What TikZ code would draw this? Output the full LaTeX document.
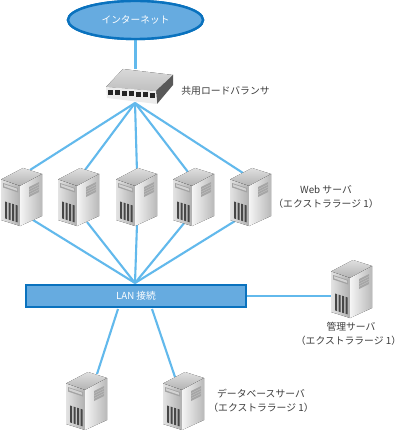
\documentclass[tikz,border=0pt]{standalone}
\usepackage{fontspec}
\setmainfont{Noto Sans CJK JP}
\usetikzlibrary{shapes.geometric}
\definecolor{linkblue}{HTML}{62B9EC}
\definecolor{edgeblue}{HTML}{0A72BE}
\definecolor{fillblue}{HTML}{66ABE0}
\definecolor{labelgrey}{HTML}{3C3C3C}
\newcommand{\sizeline}{\kern-4.8pt（エクストララージ 1）\kern-4.8pt}
\tikzset{
  link/.style={draw=linkblue,line width=2.1pt},
  label/.style={text=labelgrey,font=\fontsize{9.8}{13.5}\selectfont,inner sep=0pt,align=center},
  whitelabel/.style={text=white,font=\fontsize{9.7}{11}\selectfont,inner sep=0pt},
  cloud/.style={ellipse,draw=edgeblue,fill=fillblue,line width=2.4pt,minimum width=135pt,minimum height=38pt,inner sep=0pt},
  bar/.style={rectangle,draw=edgeblue,fill=fillblue,line width=2.2pt,minimum width=220pt,minimum height=22pt,inner sep=0pt},
  hostbox/.style={rectangle,minimum width=41pt,minimum height=58pt,inner sep=0pt},
  switchbox/.style={rectangle,minimum width=67pt,minimum height=35pt,inner sep=0pt},
  pics/serverpic/.style={code={
    \fill[top color=gray!25,bottom color=gray!60] (0,11.5)--(22,0)--(41,6)--(19,18)--cycle;
    \fill[left color=gray!22,right color=gray!62] (0,11.5)--(19,18)--(19,58)--(0,52)--cycle;
    \fill[left color=gray!8,right color=gray!55] (19,18)--(41,6)--(41,48)--(19,58)--cycle;
    \fill[gray!72] (2,15)--(17,20)--(17,24.5)--(2,19.5)--cycle;
    \fill[gray!35] (3,16.2)--(16,20.6)--(16,22.8)--(3,18.4)--cycle;
    \fill[gray!70] (28,19)--(38,14)--(38,24)--(28,29)--cycle;
    \foreach \i in {0,1,2}{\draw[gray!45,line width=.4pt] (28,{21.5+\i*2.5})--(38,{16.5+\i*2.5});}
    \foreach \i in {0,1,2,3}{\fill[black!72] ({4+\i*3.5},{33.5+\i*1.1})--({6+\i*3.5},{34.1+\i*1.1})--({6+\i*3.5},{51+\i*1.1})--({4+\i*3.5},{50.4+\i*1.1})--cycle;}
  }},
}
\begin{document}
\begin{tikzpicture}[x=1pt,y=-1pt]
\useasboundingbox (0,0) rectangle (400,430);
\fill[white] (0,0) rectangle (400,430);
\node[cloud] (net) at (135.5,20) {};
\node[bar] (lan) at (136,296) {};
\coordinate (lbdown) at (135,103);
\coordinate (lanup) at (135,283);
\node[switchbox] (lb) at (139.5,87) {};
\node[hostbox] (mg) at (351.5,289) {};
\coordinate (t1) at (30,170);\coordinate (t2) at (85,170);\coordinate (t3) at (137,172);\coordinate (t4) at (188,172);\coordinate (t5) at (243,173);
\coordinate (b1) at (33,220);\coordinate (b2) at (87,222);\coordinate (b3) at (137,224);\coordinate (b4) at (185,222);\coordinate (b5) at (235,221);
\coordinate (dt1) at (97,374);\coordinate (dt2) at (175,377);
\coordinate (dl1) at (118,309);\coordinate (dl2) at (152,309);
\draw[link] (net.south) -- (net.south |- lb.north);
\foreach \n in {1,...,5}{\draw[link] (lbdown) -- (t\n); \draw[link] (lanup) -- (b\n);}
\draw[link] (lan.east) -- (lan.east -| mg.west);
\draw[link] (dl1) -- (dt1);
\draw[link] (dl2) -- (dt2);
\node[cloud] at (net) {};
\node[whitelabel] at (net) {インターネット};
\node[bar] at (lan) {};
\node[whitelabel] at (lan) {LAN 接続};
\fill[top color=gray!30,bottom color=gray!50] (106,87)--(123,69)--(173,75)--(156,91)--cycle;
\fill[gray!70!black] (156,91)--(173,75)--(173,85)--(157,104)--cycle;
\fill[gray!15] (106,87)--(156,91)--(157,104)--(107,98)--cycle;
\foreach \i in {0,...,6}{\fill[black!85] ({108+\i*7},{90+\i*.5}) rectangle ++(5.2,4.6);}
\foreach \x/\y in {1/168,58/168,116/168,173/168,230/168,331/260,66/372,163/372}{
  \pic at (\x,\y) {serverpic};
}
\node[label] at (225.5,91) {共用ロードバランサ};
\node[label] at (326,197) {Web サーバ\\\sizeline};
\node[label] at (348.5,334) {\kern5pt管理サーバ\\\sizeline};
\node[label] at (261,401) {データベースサーバ\\\sizeline};
\end{tikzpicture}
\end{document}
